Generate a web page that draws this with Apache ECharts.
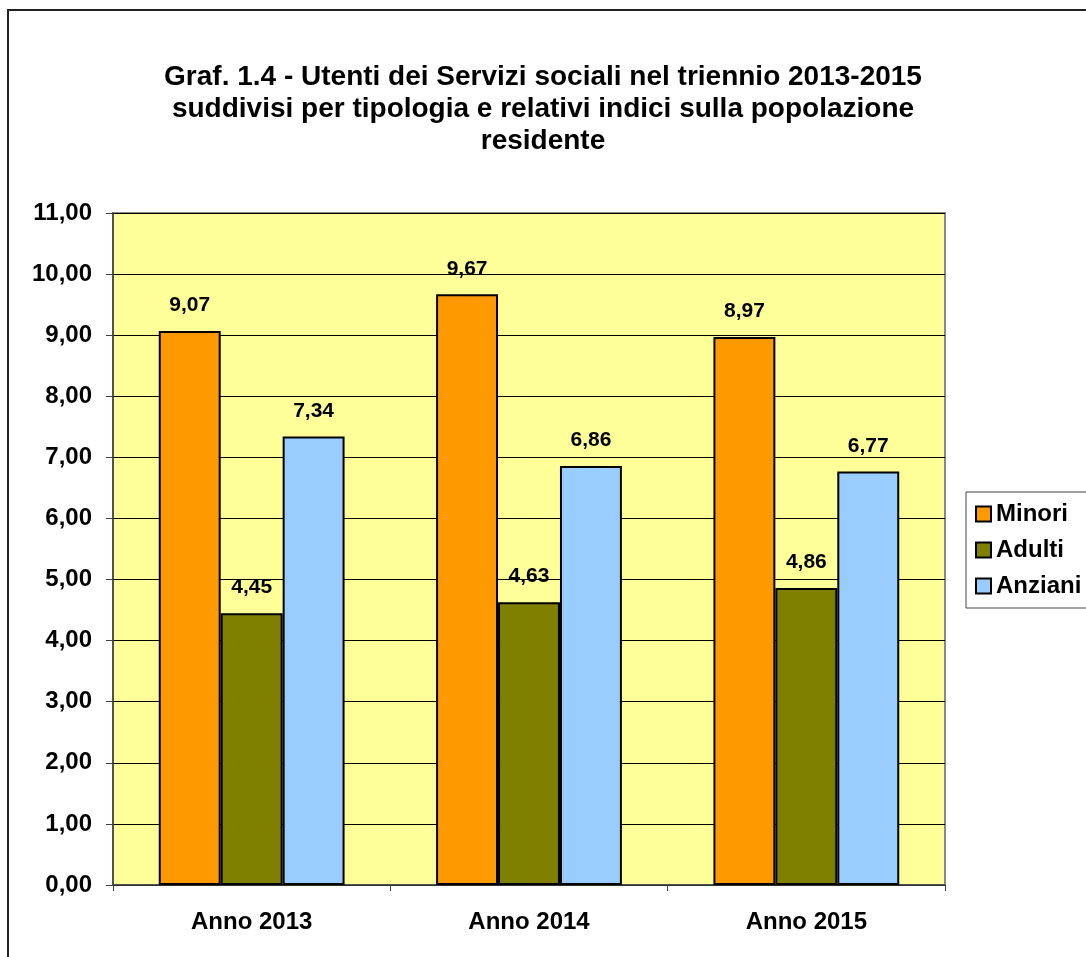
<!DOCTYPE html>
<html>
<head>
<meta charset="utf-8">
<script src="https://cdn.jsdelivr.net/npm/echarts@6/dist/echarts.min.js"></script>
<style>html,body{margin:0;padding:0;background:#fff}#c{width:1086px;height:957px}</style>
</head>
<body>
<div id="c"></div>
<script>
const categories = ['Anno 2013', 'Anno 2014', 'Anno 2015'];
const minori = [9.07, 9.67, 8.97];
const adulti = [4.45, 4.63, 4.86];
const anziani = [7.34, 6.86, 6.77];
const seriesNames = ['Minori', 'Adulti', 'Anziani'];
const titleText = 'Graf. 1.4 - Utenti dei Servizi sociali nel triennio 2013-2015\nsuddivisi per tipologia e relativi indici sulla popolazione\nresidente';

const fmt = v => Number(v).toFixed(2).replace('.', ',');
const FONT = '"Liberation Sans", Arial, sans-serif';
const colors = ['#FF9900', '#808000', '#99CCFF'];

function mk(name, data, color) {
  return {
    name: name, type: 'bar', data: data,
    barGap: 0, barCategoryGap: '33%',
    itemStyle: { color: color, borderColor: '#000', borderWidth: 2 },
    label: {
      show: true, position: 'top', distance: 15,
      formatter: p => fmt(p.value),
      color: '#000', fontWeight: 'bold', fontSize: 21, fontFamily: FONT
    }
  };
}

const chart = echarts.init(document.getElementById('c'));
chart.setOption({
  animation: false,
  backgroundColor: '#fff',
  graphic: [{
    type: 'rect', z: -10,
    shape: { x: 8, y: 10, width: 1300, height: 1300 },
    style: { fill: 'none', stroke: '#222', lineWidth: 2 }
  }],
  title: {
    text: titleText, left: 'center', top: 61, padding: 0,
    textStyle: { fontSize: 28, lineHeight: 32, fontWeight: 'bold', color: '#000', fontFamily: FONT, align: 'center' }
  },
  legend: {
    orient: 'vertical', left: 966, top: 492,
    padding: [10, 20, 10, 9],
    itemWidth: 15, itemHeight: 15, itemGap: 12, itemTextGap: 6,
    borderColor: '#444', borderWidth: 1,
    backgroundColor: '#fff',
    icon: 'rect',
    textStyle: { fontSize: 24, fontWeight: 'bold', color: '#000', fontFamily: FONT },
    data: seriesNames
  },
  grid: {
    left: 113, top: 213, right: 141, bottom: 72,
    show: true, backgroundColor: '#FFFF99', borderColor: '#888', borderWidth: 2
  },
  xAxis: {
    type: 'category', data: categories,
    axisLine: { lineStyle: { color: '#404040', width: 1.5 } },
    axisTick: { show: true, length: 6, lineStyle: { color: '#404040' } },
    axisLabel: { margin: 25, fontSize: 24, fontWeight: 'bold', color: '#000', fontFamily: FONT },
    splitLine: { show: false }
  },
  yAxis: {
    type: 'value', min: 0, max: 11, interval: 1,
    axisLine: { show: true, lineStyle: { color: '#404040', width: 1.5 } },
    axisTick: { show: true, length: 7, lineStyle: { color: '#404040' } },
    axisLabel: { margin: 21, formatter: v => fmt(v), fontSize: 24, fontWeight: 'bold', color: '#000', fontFamily: FONT },
    splitLine: { show: true, lineStyle: { color: '#000', width: 1 } }
  },
  series: [mk(seriesNames[0], minori, colors[0]), mk(seriesNames[1], adulti, colors[1]), mk(seriesNames[2], anziani, colors[2])]
});
</script>
</body>
</html>
